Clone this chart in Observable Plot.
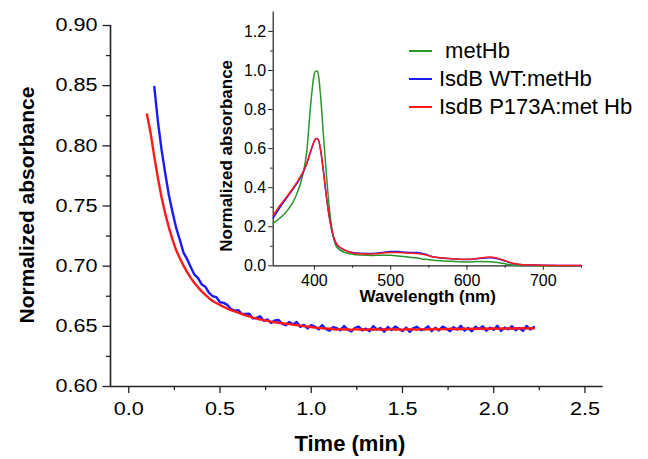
<!DOCTYPE html>
<html><head><meta charset="utf-8">
<script src="https://cdn.jsdelivr.net/npm/d3@7"></script>
<script src="https://cdn.jsdelivr.net/npm/@observablehq/plot@0.6"></script>
<style>
body{margin:0;background:#fff;}
#wrap{position:relative;width:648px;height:459px;font-family:"Liberation Sans",Arial,sans-serif;color:#000;}
#wrap svg{position:absolute;top:0;overflow:visible;}
.lg{position:absolute;left:409px;height:28px;display:flex;align-items:center;font-size:22px;white-space:pre;line-height:28px;}
.lg span.sw{display:inline-block;width:23px;height:1.6px;margin-right:7px;}
</style></head><body><div id="wrap"></div>
<script>
// ---- Main kinetic traces (time in min) ----
const timeMin = [
0.10,0.12,0.14,0.16,0.18,0.20,0.22,0.24,0.26,0.28,
0.30,0.32,0.34,0.36,0.38,0.40,0.42,0.44,0.46,0.48,
0.50,0.52,0.54,0.56,0.58,0.60,0.62,0.64,0.66,0.68,
0.70,0.72,0.74,0.76,0.78,0.80,0.82,0.84,0.86,0.88,
0.90,0.92,0.94,0.96,0.98,1.00,1.02,1.04,1.06,1.08,
1.10,1.12,1.14,1.16,1.18,1.20,1.22,1.24,1.26,1.28,
1.30,1.32,1.34,1.36,1.38,1.40,1.42,1.44,1.46,1.48,
1.50,1.52,1.54,1.56,1.58,1.60,1.62,1.64,1.66,1.68,
1.70,1.72,1.74,1.76,1.78,1.80,1.82,1.84,1.86,1.88,
1.90,1.92,1.94,1.96,1.98,2.00,2.02,2.04,2.06,2.08,
2.10,2.12,2.14,2.16,2.18,2.20,2.22];
const wtAbs = [
null,null,0.849,0.8200,0.7966,0.7770,0.7590,0.7449,0.7318,0.7218,
0.7112,0.7058,0.6992,0.6929,0.6900,0.6848,0.6828,0.6779,0.6750,0.6742,
0.6700,0.6695,0.6678,0.6644,0.6630,0.6635,0.6602,0.6602,0.6605,0.6566,
0.6570,0.6583,0.6546,0.6557,0.6528,0.6549,0.6553,0.6522,0.6509,0.6536,
0.6515,0.6536,0.6496,0.6512,0.6483,0.6510,0.6497,0.6475,0.6510,0.6478,
0.6464,0.6494,0.6484,0.6467,0.6503,0.6472,0.6457,0.6488,0.6497,0.6466,
0.6481,0.6460,0.6502,0.6473,0.6486,0.6456,0.6494,0.6469,0.6498,0.6479,
0.6461,0.6490,0.6454,0.6485,0.6496,0.6469,0.6476,0.6500,0.6460,0.6488,
0.6466,0.6497,0.6482,0.6460,0.6493,0.6473,0.6504,0.6465,0.6486,0.6459,
0.6497,0.6478,0.6501,0.6464,0.6488,0.6471,0.6504,0.6462,0.6490,0.6476,
0.6501,0.6468,0.6487,0.6462,0.6503,0.6474,0.6494];
const p173aAbs = [
0.826,0.8105,0.791,0.773,0.757,0.7437,0.7321,0.7220,0.7132,0.7065,
0.7005,0.6951,0.6903,0.6860,0.6824,0.6791,0.6761,0.6734,0.6711,0.6694,
0.6677,0.6662,0.6648,0.6635,0.6624,0.6613,0.6602,0.6591,0.6582,0.6573,
0.6565,0.6557,0.6551,0.6545,0.6539,0.6534,0.6530,0.6526,0.6522,0.6518,
0.6514,0.6510,0.6506,0.6502,0.6498,0.6494,0.6490,0.6487,0.6484,0.6482,
0.6480,0.6478,0.6472,0.6479,0.6474,0.6477,0.6471,0.6478,0.6473,0.6476,
0.6470,0.6477,0.6472,0.6478,0.6471,0.6476,0.6473,0.6479,0.6472,0.6477,
0.6471,0.6478,0.6474,0.6477,0.6472,0.6479,0.6473,0.6478,0.6474,0.6480,
0.6474,0.6479,0.6475,0.6481,0.6476,0.6480,0.6476,0.6482,0.6477,0.6481,
0.6478,0.6483,0.6478,0.6482,0.6479,0.6484,0.6479,0.6483,0.6480,0.6485,
0.6480,0.6484,0.6481,0.6486,0.6481,0.6485,0.6482];
const xMajor = [0, 0.5, 1.0, 1.5, 2.0, 2.5];
const xMinor = [0.25, 0.75, 1.25, 1.75, 2.25];
const yMajor = [0.60, 0.65, 0.70, 0.75, 0.80, 0.85, 0.90];
const yMinor = [0.625, 0.675, 0.725, 0.775, 0.825, 0.875];

// ---- Inset spectra ----
const wavelength = [346,355,365,375,385,390,395,400,402,404,
406,408,412,416,420,425,430,440,450,460,
475,490,500,510,520,535,545,555,565,580,
600,615,630,640,650,660,670,680,700,720,750];
const metHb = [0.218,0.245,0.285,0.350,0.470,0.585,0.820,0.985,0.998,0.998,
0.955,0.875,0.660,0.455,0.280,0.145,0.092,0.068,0.059,0.055,
0.053,0.054,0.054,0.050,0.046,0.040,0.033,0.029,0.026,0.023,
0.020,0.022,0.021,0.017,0.010,0.004,0.002,0.001,0.000,0.000,0.000];
const wtMetHb = [0.245,0.300,0.355,0.410,0.475,0.522,0.583,0.638,0.650,0.651,
0.635,0.595,0.478,0.345,0.238,0.147,0.105,0.080,0.068,0.064,
0.063,0.068,0.073,0.073,0.069,0.068,0.060,0.046,0.040,0.036,
0.032,0.037,0.041,0.036,0.024,0.012,0.007,0.005,0.003,0.002,0.001];
const p173aMetHb = [0.258,0.310,0.360,0.415,0.480,0.526,0.586,0.640,0.652,0.651,
0.637,0.597,0.480,0.347,0.240,0.150,0.108,0.080,0.066,0.062,
0.061,0.065,0.068,0.068,0.065,0.063,0.057,0.046,0.041,0.036,
0.033,0.039,0.045,0.039,0.026,0.013,0.007,0.005,0.003,0.002,0.001];
const wlMajor = [400, 500, 600, 700];
const wlMinor = [450, 550, 650, 750];
const absMajor = [0, 0.2, 0.4, 0.6, 0.8, 1.0, 1.2];
const absMinor = [0.1, 0.3, 0.5, 0.7, 0.9, 1.1];

const seriesNames = ["metHb", "IsdB WT:metHb", "IsdB P173A:met Hb"];
const seriesColors = ["#2a962a", "#1a1aff", "#ff1a1a"];

const FONT = '"Liberation Sans", Arial, sans-serif';
const axisCol = "#222";

const kin = (vals) => timeMin.map((t, i) => ({t, v: vals[i]})).filter(d => d.v != null);
const spec = (vals) => wavelength.map((w, i) => ({w, v: vals[i]}));

const main = Plot.plot({
  width: 648, height: 459,
  marginLeft: 110, marginRight: 45.3, marginTop: 25, marginBottom: 73,
  x: {domain: [-0.1, 2.6]},
  y: {domain: [0.6, 0.9]},
  style: {fontFamily: FONT, background: "none", color: "#000", overflow: "visible"},
  marks: [
    Plot.axisY(yMajor, {tickSize: 7.5, tickPadding: 5.5, tickFormat: d3.format(".2f"), fontSize: 18, label: null, stroke: axisCol, strokeWidth: 1.3}),
    Plot.axisY(yMinor, {tickSize: 4, tickFormat: () => "", label: null, stroke: axisCol, strokeWidth: 1.3}),
    Plot.axisX(xMajor, {tickSize: 7, tickPadding: 9, tickFormat: d3.format(".1f"), fontSize: 18, label: null, stroke: axisCol, strokeWidth: 1.3}),
    Plot.axisX(xMinor, {tickSize: 4, tickFormat: () => "", label: null, stroke: axisCol, strokeWidth: 1.3}),
    Plot.ruleX([-0.1], {stroke: axisCol, strokeWidth: 1.6}),
    Plot.ruleY([0.6], {stroke: axisCol, strokeWidth: 1.6}),
    Plot.line(kin(wtAbs), {x: "t", y: "v", stroke: seriesColors[1], strokeWidth: 2.4}),
    Plot.line(kin(p173aAbs), {x: "t", y: "v", stroke: seriesColors[2], strokeWidth: 2.4}),
    Plot.text(["Normalized absorbance"], {text: d => d, frameAnchor: "left", textAnchor: "middle", lineAnchor: "middle", rotate: -90, dx: -83.7, dy: -1, fontSize: 21, fontWeight: "bold"}),
    Plot.text(["Time (min)"], {text: d => d, frameAnchor: "bottom", textAnchor: "middle", lineAnchor: "middle", dx: -7, dy: 57, fontSize: 22, fontWeight: "bold"})
  ]
});

const inset = Plot.plot({
  width: 380, height: 305,
  marginLeft: 57.7, marginRight: 13.3, marginTop: 11.4, marginBottom: 39.7,
  x: {domain: [346, 751]},
  y: {domain: [0, 1.3]},
  style: {fontFamily: FONT, background: "none", color: "#000", overflow: "visible"},
  marks: [
    Plot.axisY(absMajor, {tickSize: 4.5, tickPadding: 2.5, tickFormat: d3.format(".1f"), fontSize: 16, label: null, stroke: axisCol, strokeWidth: 1}),
    Plot.axisY(absMinor, {tickSize: 2.5, tickFormat: () => "", label: null, stroke: axisCol, strokeWidth: 1}),
    Plot.axisX(wlMajor, {tickSize: 4.5, tickPadding: 4, tickFormat: d3.format("d"), fontSize: 16, label: null, stroke: axisCol, strokeWidth: 1}),
    Plot.axisX(wlMinor, {tickSize: 2.5, tickFormat: () => "", label: null, stroke: axisCol, strokeWidth: 1}),
    Plot.ruleX([346], {stroke: axisCol, strokeWidth: 1.2}),
    Plot.ruleY([0], {stroke: axisCol, strokeWidth: 1.2}),
    Plot.line(spec(metHb), {x: "w", y: "v", stroke: seriesColors[0], strokeWidth: 1.5, curve: "monotone-x"}),
    Plot.line(spec(wtMetHb), {x: "w", y: "v", stroke: seriesColors[1], strokeWidth: 1.5, curve: "monotone-x"}),
    Plot.line(spec(p173aMetHb), {x: "w", y: "v", stroke: seriesColors[2], strokeWidth: 1.5, curve: "monotone-x"}),
    Plot.text(["Normalized absorbance"], {text: d => d, frameAnchor: "left", textAnchor: "middle", lineAnchor: "middle", rotate: -90, dx: -46.7, dy: 17, fontSize: 17, fontWeight: "bold"}),
    Plot.text(["Wavelength (nm)"], {text: d => d, frameAnchor: "bottom", textAnchor: "middle", lineAnchor: "middle", dy: 31, fontSize: 17, fontWeight: "bold"})
  ]
});

const wrap = document.getElementById("wrap");
main.style.left = "0px";
inset.style.left = "215px";
wrap.appendChild(main);
wrap.appendChild(inset);

// Stretch the main tick labels horizontally (the reference's tick digits are wide)
function stretch(svg, k) {
  svg.querySelectorAll('g[aria-label$="tick label"] text').forEach(t => {
    if (!t.textContent) return;
    const b = t.getBBox();
    const a = getComputedStyle(t).textAnchor;
    const ax = a === "end" ? b.x + b.width : a === "middle" ? b.x + b.width / 2 : b.x;
    const tr = t.getAttribute("transform") || "";
    t.setAttribute("transform", `${tr} translate(${ax},0) scale(${k},1) translate(${-ax},0)`);
  });
}
stretch(main, 1.2);

// Legend (line swatches)
const legendRowY = [52, 80, 108];
seriesNames.forEach((name, i) => {
  const row = document.createElement("div");
  row.className = "lg";
  row.style.top = (legendRowY[i] - 15) + "px";
  const sw = document.createElement("span");
  sw.className = "sw";
  sw.style.background = seriesColors[i];
  row.appendChild(sw);
  const tx = document.createElement("span");
  tx.textContent = (i === 0 ? " " : "") + name;
  row.appendChild(tx);
  wrap.appendChild(row);
});
</script></body></html>
